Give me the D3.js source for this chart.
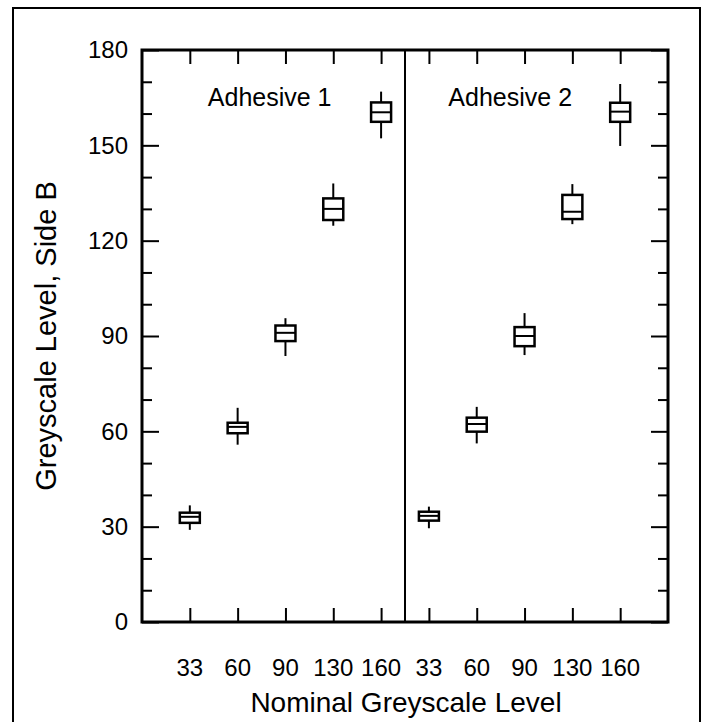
<!DOCTYPE html>
<html>
<head>
<meta charset="utf-8">
<script src="https://cdn.jsdelivr.net/npm/d3@7/dist/d3.min.js"></script>
<style>
  body { margin: 0; background: #fff; }
  text { font-family: "Liberation Sans", Arial, sans-serif; fill: #000; }
</style>
</head>
<body>
<div id="chart"></div>
<script>
// categories and tick labels
var categories = ["33", "60", "90", "130", "160"];
var panels = ["Adhesive 1", "Adhesive 2"];
var yTicks = [0, 30, 60, 90, 120, 150, 180];

// box plot values (whisker low, q1, median, q3, whisker high)
var adh1Low  = [29.0, 55.8, 83.7, 124.7, 152.2];
var adh1Q1   = [31.2, 59.4, 88.4, 126.5, 157.4];
var adh1Med  = [33.1, 61.4, 91.0, 130.0, 160.4];
var adh1Q3   = [34.4, 62.7, 93.3, 133.3, 163.5];
var adh1High = [36.7, 67.4, 95.6, 138.0, 166.9];

var adh2Low  = [29.5, 56.2, 84.0, 125.2, 149.8];
var adh2Q1   = [31.9, 59.9, 86.8, 126.8, 157.4];
var adh2Med  = [33.4, 62.3, 90.0, 129.1, 160.6];
var adh2Q3   = [34.7, 64.3, 92.8, 134.4, 163.4];
var adh2High = [36.3, 67.7, 97.2, 137.8, 169.3];

var W = 712, H = 722;
var margin = {top: 50, right: 44, bottom: 100, left: 142};
var width = W - margin.left - margin.right,
    height = H - margin.top - margin.bottom;

var svg = d3.select("#chart")
    .append("svg")
    .attr("width", W)
    .attr("height", H);

// outer frame (runs off the bottom of the picture)
svg.append("rect")
    .attr("x", 13).attr("y", 8)
    .attr("width", 687).attr("height", 725)
    .attr("fill", "none")
    .attr("stroke", "black")
    .attr("stroke-width", 2);

var g = svg.append("g")
    .attr("transform", "translate(" + margin.left + "," + margin.top + ")");

// each panel takes 5.5 slots, categories at slot 1..5 and 6..10
var x = d3.scaleLinear().domain([0, 11]).range([0, width]);
var y = d3.scaleLinear().domain([0, 180]).range([height, 0]);

var boxes = [];
categories.forEach(function(c, i) {
    boxes.push({panel: 0, cat: c, pos: i + 1, low: adh1Low[i], q1: adh1Q1[i], med: adh1Med[i], q3: adh1Q3[i], high: adh1High[i]});
});
categories.forEach(function(c, i) {
    boxes.push({panel: 1, cat: c, pos: i + 6, low: adh2Low[i], q1: adh2Q1[i], med: adh2Med[i], q3: adh2Q3[i], high: adh2High[i]});
});
var catPos = boxes.map(function(d) { return d.pos; });

// y axes, major ticks every 30, minor every 10
var minor = d3.range(0, 181, 10).filter(function(v) { return v % 30 !== 0; });

var yLeft = d3.axisRight(y).tickValues(yTicks).tickSize(17).tickFormat("");
var yLeftMinor = d3.axisRight(y).tickValues(minor).tickSize(10).tickFormat("");
var yRight = d3.axisLeft(y).tickValues(yTicks).tickSize(17).tickFormat("");
var yRightMinor = d3.axisLeft(y).tickValues(minor).tickSize(10).tickFormat("");

g.append("g").call(yLeft);
g.append("g").call(yLeftMinor);
g.append("g").attr("transform", "translate(" + width + ",0)").call(yRight);
g.append("g").attr("transform", "translate(" + width + ",0)").call(yRightMinor);

// category ticks top and bottom
var xBottom = d3.axisTop(x).tickValues(catPos).tickSize(14).tickFormat("");
var xTop = d3.axisBottom(x).tickValues(catPos).tickSize(14).tickFormat("");
g.append("g").attr("transform", "translate(0," + height + ")").call(xBottom);
g.append("g").call(xTop);

g.selectAll(".domain").remove();
g.selectAll(".tick line").attr("stroke", "black").attr("stroke-width", 2);

// plot frame
g.append("rect")
    .attr("width", width).attr("height", height)
    .attr("fill", "none")
    .attr("stroke", "black")
    .attr("stroke-width", 3);

// panel divider
g.append("line")
    .attr("x1", x(5.5)).attr("x2", x(5.5))
    .attr("y1", 0).attr("y2", height)
    .attr("stroke", "black")
    .attr("stroke-width", 2);

// y tick labels
g.selectAll(".ylab")
    .data(yTicks)
    .enter().append("text")
    .attr("class", "ylab")
    .attr("x", -14)
    .attr("y", function(d) { return y(d); })
    .attr("dy", "0.35em")
    .attr("text-anchor", "end")
    .style("font-size", "24px")
    .text(function(d) { return d; });

// x tick labels
g.selectAll(".xlab")
    .data(boxes)
    .enter().append("text")
    .attr("class", "xlab")
    .attr("x", function(d) { return x(d.pos); })
    .attr("y", height + 54)
    .attr("text-anchor", "middle")
    .style("font-size", "24px")
    .text(function(d) { return d.cat; });

// panel labels
g.selectAll(".plab")
    .data(panels)
    .enter().append("text")
    .attr("class", "plab")
    .attr("x", function(d, i) { return x(i === 0 ? 2.67 : 7.7); })
    .attr("y", 56)
    .attr("text-anchor", "middle")
    .style("font-size", "25px")
    .text(function(d) { return d; });

// axis titles
svg.append("text")
    .attr("transform", "translate(56," + (margin.top + height / 2) + ") rotate(-90)")
    .attr("text-anchor", "middle")
    .style("font-size", "29px")
    .text("Greyscale Level, Side B");

svg.append("text")
    .attr("x", margin.left + x(5.5) + 1)
    .attr("y", 712)
    .attr("text-anchor", "middle")
    .style("font-size", "28px")
    .text("Nominal Greyscale Level");

// boxes
var bw = 20;
var bx = g.selectAll(".box")
    .data(boxes)
    .enter().append("g")
    .attr("class", "box");

bx.append("line")
    .attr("x1", function(d) { return x(d.pos); })
    .attr("x2", function(d) { return x(d.pos); })
    .attr("y1", function(d) { return y(d.low); })
    .attr("y2", function(d) { return y(d.high); })
    .attr("stroke", "black")
    .attr("stroke-width", 2);

bx.append("rect")
    .attr("x", function(d) { return x(d.pos) - bw / 2; })
    .attr("y", function(d) { return y(d.q3); })
    .attr("width", bw)
    .attr("height", function(d) { return y(d.q1) - y(d.q3); })
    .attr("fill", "white")
    .attr("stroke", "black")
    .attr("stroke-width", 2.5);

bx.append("line")
    .attr("x1", function(d) { return x(d.pos) - bw / 2; })
    .attr("x2", function(d) { return x(d.pos) + bw / 2; })
    .attr("y1", function(d) { return y(d.med); })
    .attr("y2", function(d) { return y(d.med); })
    .attr("stroke", "black")
    .attr("stroke-width", 2);
</script>
</body>
</html>
